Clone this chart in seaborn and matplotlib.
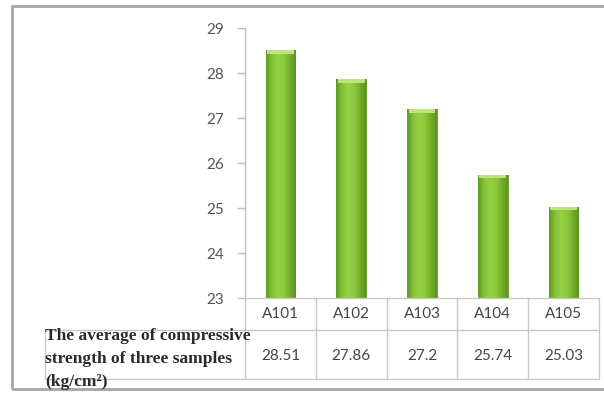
import numpy as np
import pandas as pd
import matplotlib
matplotlib.use("Agg")
import matplotlib.pyplot as plt
import seaborn as sns
from matplotlib.colors import LinearSegmentedColormap
from matplotlib.lines import Line2D
from matplotlib.patches import Rectangle
from matplotlib.transforms import blended_transform_factory

# Average compressive strength per sample (kg/cm²)
samples = ["A101", "A102", "A103", "A104", "A105"]
strength = [28.51, 27.86, 27.2, 25.74, 25.03]
value_labels = ["28.51", "27.86", "27.2", "25.74", "25.03"]
yticks = [23, 24, 25, 26, 27, 28, 29]
row_label = ["The average of compressive", "strength of three samples", "(kg/cm²)"]

sns.set_theme(style="white")
plt.rcParams["font.family"] = ["Lato", "DejaVu Sans"]

W, H = 604, 394
fig = plt.figure(figsize=(W / 100, H / 100), dpi=100)
fig.patch.set_facecolor("white")


def fx(px):
    return px / W


def fy(py):
    return 1 - py / H


ax = fig.add_axes([fx(245), fy(298), (599 - 245) / W, 270 / H])
df = pd.DataFrame({"sample": samples, "strength": strength})
sns.barplot(data=df, x="sample", y="strength", ax=ax, color="#84c238",
            width=0.42, saturation=1, edgecolor="#5e9222", linewidth=0.6)

ymin, ymax = 23, 29
ax.set_ylim(ymin, ymax)
ax.set_xlim(-0.5, len(samples) - 0.5)

# Cylindrical shading on the bars
shade = LinearSegmentedColormap.from_list(
    "bar", ["#5f9a22", "#84c336", "#95d045", "#8dca3d", "#74b02b", "#5c9320"])
grad = np.linspace(0, 1, 64).reshape(1, -1)
for p in ax.patches:
    x0, w = p.get_x(), p.get_width()
    top = p.get_height()
    im = ax.imshow(grad, cmap=shade, aspect="auto",
                   extent=[x0, x0 + w, ymin, top], zorder=p.get_zorder() + 0.1)
    im.set_clip_path(p)
    # light bevel on the top edge
    cap = Rectangle((x0 + 0.02, top - 0.08), w - 0.04, 0.08, facecolor="#bde57a",
                    edgecolor="none", zorder=p.get_zorder() + 0.2)
    ax.add_patch(cap)

for s in ["top", "right", "bottom"]:
    ax.spines[s].set_visible(False)
ax.spines["left"].set_color("#bfbfbf")
ax.spines["left"].set_linewidth(1)
ax.set_yticks(yticks)
ax.set_yticklabels([str(v) for v in yticks])
ax.tick_params(axis="y", length=6, width=1, color="#bfbfbf", labelsize=11,
               labelcolor="#555555", pad=9, left=True)
ax.set_xticks([])
ax.set_xlabel("")
ax.set_ylabel("")

# Data table under the axis
grid_c = "#c8c8c8"
col_edges = [245, 316, 387, 457, 528, 599]
for yy, xa in [(298, 245), (330, 45), (379, 45)]:
    fig.add_artist(Line2D([fx(xa), fx(599)], [fy(yy), fy(yy)], color=grid_c, lw=1))
for xx in col_edges:
    fig.add_artist(Line2D([fx(xx), fx(xx)], [fy(298), fy(379)], color=grid_c, lw=1))
fig.add_artist(Line2D([fx(45), fx(45)], [fy(330), fy(379)], color=grid_c, lw=1))

tr = blended_transform_factory(ax.transData, fig.transFigure)
for i, (name, lab) in enumerate(zip(samples, value_labels)):
    ax.text(i, fy(314), name, transform=tr, ha="center", va="center",
            fontsize=11, color="#454545", clip_on=False)
    ax.text(i, fy(356), lab, transform=tr, ha="center", va="center",
            fontsize=11, color="#454545", clip_on=False)

for k, line in enumerate(row_label):
    fig.text(fx(45), fy(336 + 23 * k), line, ha="left", va="center",
             family="Liberation Serif", fontweight="bold", fontsize=12.5,
             color="#2a2a2a")

# Outer frame
fig.add_artist(Rectangle((fx(12), fy(389)), fx(610) - fx(12), fy(6) - fy(389),
                         transform=fig.transFigure, fill=False,
                         edgecolor="#a6a6a6", lw=2))

fig.savefig("out.png", dpi=100)
